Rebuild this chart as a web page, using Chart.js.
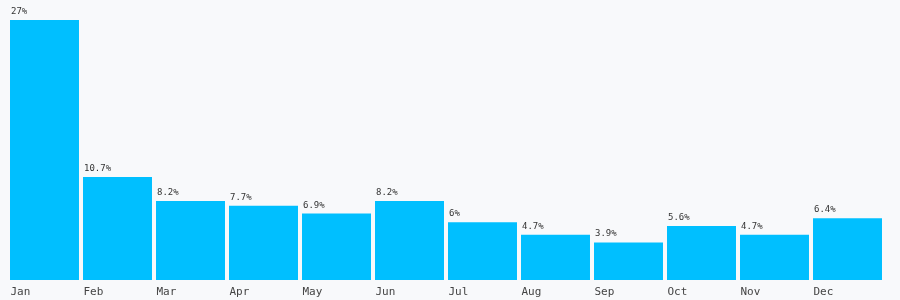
<!DOCTYPE html>
<html>
<head>
<meta charset="utf-8">
<script src="https://cdn.jsdelivr.net/npm/chart.js@4"></script>
<style>
  html, body { margin: 0; padding: 0; background: #f8f9fb; }
  #mychart { display: block; }
</style>
</head>
<body>
<canvas id="mychart" width="900" height="300"></canvas>
<script>
const months = ['Jan', 'Feb', 'Mar', 'Apr', 'May', 'Jun', 'Jul', 'Aug', 'Sep', 'Oct', 'Nov', 'Dec'];
const shares = [27, 10.7, 8.2, 7.7, 6.9, 8.2, 6, 4.7, 3.9, 5.6, 4.7, 6.4];

// value labels above each bar, left aligned with the bar
const barLabels = {
  id: 'barLabels',
  afterDatasetsDraw(chart) {
    const ctx = chart.ctx;
    const meta = chart.getDatasetMeta(0);
    ctx.save();
    ctx.font = '9px "DejaVu Sans Mono", monospace';
    ctx.fillStyle = '#333';
    ctx.textAlign = 'left';
    ctx.textBaseline = 'alphabetic';
    meta.data.forEach((bar, i) => {
      const left = bar.x - bar.width / 2;
      ctx.fillText(shares[i] + '%', left + 1, bar.y - 6);
    });
    ctx.restore();
  }
};

new Chart(document.getElementById('mychart'), {
  type: 'bar',
  data: {
    labels: months,
    datasets: [{
      data: shares,
      backgroundColor: '#00bfff',
      borderWidth: 0,
      categoryPercentage: 1,
      barPercentage: 0.945
    }]
  },
  options: {
    responsive: false,
    animation: false,
    layout: { padding: { left: 8, right: 16, top: 20, bottom: 0 } },
    plugins: { legend: { display: false }, tooltip: { enabled: false } },
    scales: {
      x: {
        grid: { display: false, drawTicks: false },
        border: { display: false },
        afterFit: (scale) => { scale.height = 20; },
        ticks: {
          align: 'start',
          labelOffset: -34,
          padding: 6,
          color: '#444',
          font: { family: '"DejaVu Sans Mono", monospace', size: 11 }
        }
      },
      y: {
        display: false,
        min: 0,
        max: 27
      }
    }
  },
  plugins: [barLabels]
});
</script>
</body>
</html>
